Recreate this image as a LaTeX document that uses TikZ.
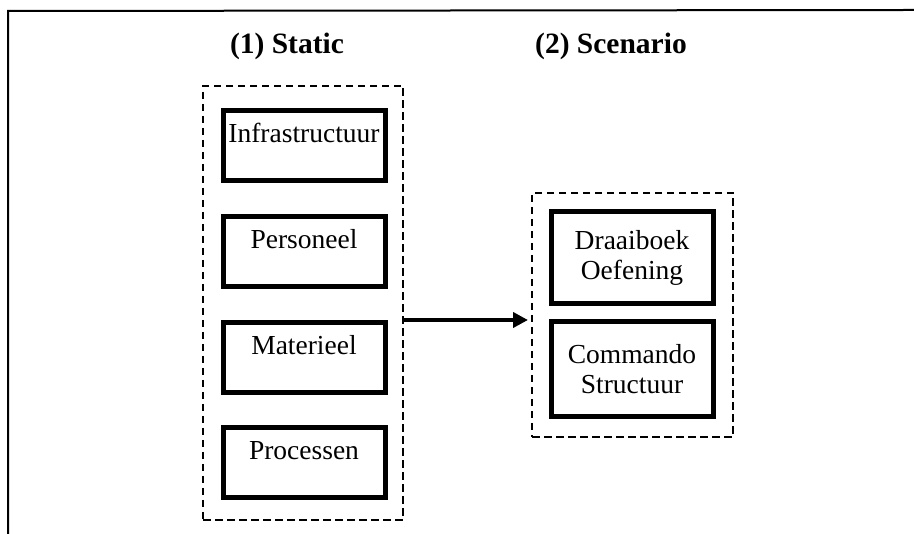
\documentclass[tikz,border=0pt]{standalone}
\usepackage{fontspec}
\setmainfont{Liberation Serif}
\usetikzlibrary{arrows.meta}
\begin{document}
\begin{tikzpicture}[x=1pt,y=1pt,
  group/.style={draw, line width=2pt, dash pattern=on 7.5pt off 4.5pt,
    minimum width=200pt, inner sep=0pt},
  item/.style={draw, line width=5pt, minimum width=162pt, inner sep=0pt,
    font=\fontsize{27.5}{30}\selectfont},
  onerow/.style={item, text height=32pt, text depth=38pt},
  tworow/.style={item, align=center},
  heading/.style={font=\fontsize{29.5}{32}\selectfont\bfseries, inner sep=0pt, anchor=base},
  flow/.style={line width=4pt, -{Triangle[length=15pt,width=15pt]}, shorten >=3pt}
]
\useasboundingbox (0,0) rectangle (914,534);

% open frame: top and left edges
\coordinate (frameTL) at (8,523);
\coordinate (frameTR) at (914,524);
\coordinate (frameBL) at (8,0);
\draw[line width=2pt] (frameTR) -- (frameTL) -- (frameBL);

% column headings
\node[heading] (h1) at (287,480) {(1) Static};
\node[heading] (h2) at (611,480) {(2) Scenario};

% static group
\node[group, minimum height=434pt] (static) at (303,231) {};
\node[onerow] (infra) at (304,388) {Infrastructuur};
\node[onerow] (pers)  at (304,282) {Personeel};
\node[onerow] (mat)   at (304,176) {Materieel};
\node[onerow] (proc)  at (304,71)  {Processen};

% scenario group
\node[group, minimum width=201pt, minimum height=244pt] (scen) at (632.5,219) {};
\node[tworow, minimum height=92pt] (draai) at (632,276) {Draaiboek\\Oefening};
\node[tworow, minimum height=95pt] (cmd) at (632,164.5) {Commando\\Structuur};

% flow from static to scenario
\coordinate (tip) at ([yshift=-5pt]scen.west);
\draw[flow] (static.east |- tip) -- (tip);
\end{tikzpicture}
\end{document}
